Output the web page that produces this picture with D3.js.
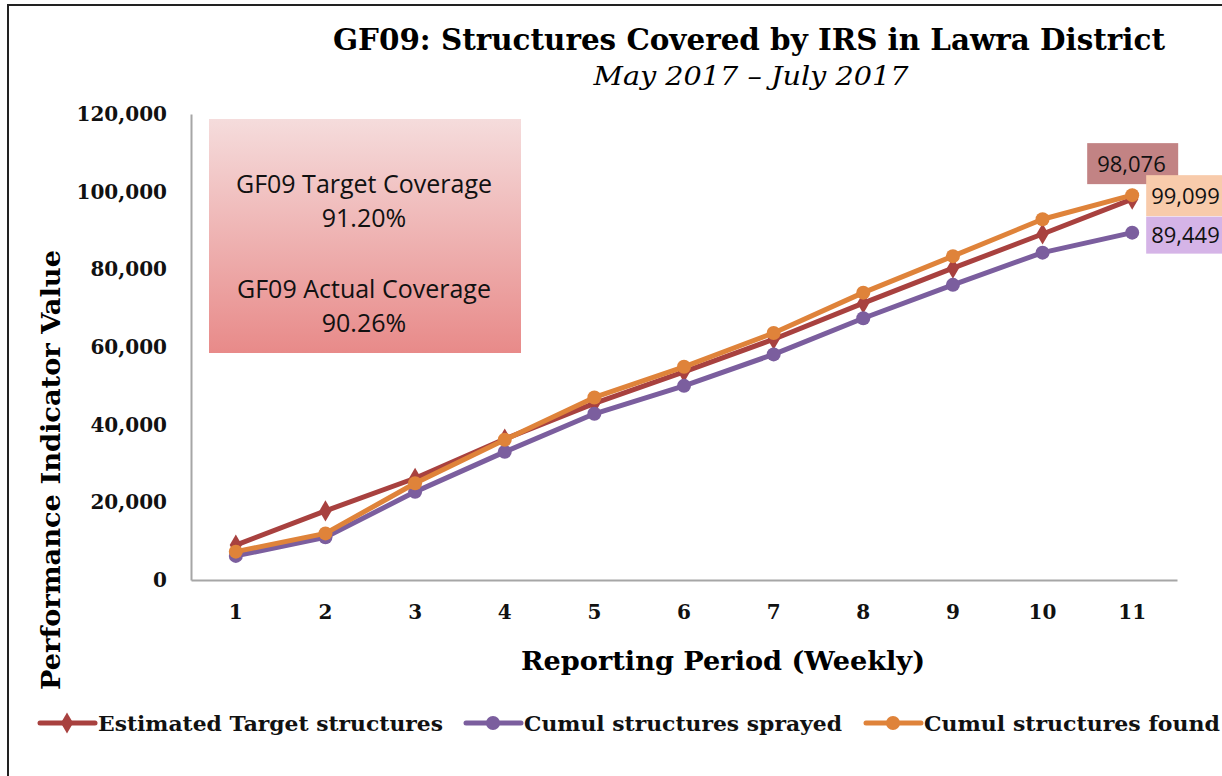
<!DOCTYPE html>
<html>
<head>
<meta charset="utf-8">
<script src="https://cdn.jsdelivr.net/npm/d3@7"></script>
<style>
  body { margin: 0; background: #fff; }
  svg { display: block; }
</style>
</head>
<body>
<div id="chart"></div>
<script>
// 数据
var periods = ["1", "2", "3", "4", "5", "6", "7", "8", "9", "10", "11"];
var targetVals = [9000, 17800, 26200, 36300, 45500, 53600, 62000, 71300, 80300, 89100, 98076];
var sprayedVals = [6200, 11000, 22700, 33000, 42800, 50000, 58100, 67400, 76000, 84300, 89449];
var foundVals = [7300, 12000, 24900, 36100, 47000, 54900, 63600, 74000, 83400, 92900, 99099];
var yTicks = [0, 20000, 40000, 60000, 80000, 100000, 120000];
var seriesNames = ["Estimated Target structures", "Cumul structures sprayed", "Cumul structures found"];
var coverageLines = ["GF09 Target Coverage", "91.20%", "GF09 Actual Coverage", "90.26%"];

var width = 1222, height = 776;
var serif = "'DejaVu Serif', 'Liberation Serif', serif";
var sans = "'Open Sans', 'Noto Sans', sans-serif";

var svg = d3.select("#chart").append("svg")
    .attr("width", width)
    .attr("height", height);

// 外框 (only left & top visible)
svg.append("path")
    .attr("d", "M8," + height + "V5H" + width)
    .attr("fill", "none")
    .attr("stroke", "#222")
    .attr("stroke-width", 2);

var x = d3.scaleBand().domain(periods).range([191, 1177]);
var y = d3.scaleLinear().domain([0, 120000]).range([580, 114]);
function cx(d, i) { return x(periods[i]) + x.bandwidth() / 2; }

// 标题
svg.append("text")
    .attr("x", 749).attr("y", 50)
    .attr("text-anchor", "middle")
    .attr("textLength", 832).attr("lengthAdjust", "spacingAndGlyphs")
    .style("font-family", serif).style("font-weight", "bold").style("font-size", "29px")
    .text("GF09: Structures Covered by IRS in Lawra District");
svg.append("text")
    .attr("x", 751).attr("y", 85)
    .attr("text-anchor", "middle")
    .attr("textLength", 315).attr("lengthAdjust", "spacingAndGlyphs")
    .style("font-family", serif).style("font-style", "italic").style("font-size", "26px")
    .text("May 2017 \u2013 July 2017");

// coverage box with gradient
var defs = svg.append("defs");
var grad = defs.append("linearGradient").attr("id", "boxGrad")
    .attr("x1", 0).attr("y1", 0).attr("x2", 0).attr("y2", 1);
grad.append("stop").attr("offset", "0%").attr("stop-color", "#f5dcdc");
grad.append("stop").attr("offset", "100%").attr("stop-color", "#e88a89");

svg.append("rect")
    .attr("x", 209).attr("y", 119)
    .attr("width", 312).attr("height", 234)
    .attr("fill", "url(#boxGrad)");

svg.selectAll(".cov")
    .data(coverageLines)
    .enter().append("text")
    .attr("class", "cov")
    .attr("x", 364)
    .attr("y", function (d, i) { return [193, 227, 298, 332][i]; })
    .attr("text-anchor", "middle")
    .style("font-family", sans).style("font-size", "25px").style("fill", "#111")
    .text(function (d) { return d; });

// 坐标轴
var yAxis = d3.axisLeft(y).tickValues(yTicks).tickSize(0).tickPadding(24)
    .tickFormat(d3.format(","));
var gy = svg.append("g").attr("transform", "translate(191,0)").call(yAxis);
gy.select(".domain").attr("stroke", "#a6a6a6").attr("stroke-width", 2);
gy.selectAll("text")
    .style("font-family", serif).style("font-weight", "bold").style("font-size", "20px")
    .style("fill", "#111");

var xAxis = d3.axisBottom(x).tickSize(0).tickPadding(25);
var gx = svg.append("g").attr("transform", "translate(0,580)").call(xAxis);
gx.select(".domain").attr("stroke", "#a6a6a6").attr("stroke-width", 2);
gx.selectAll("text")
    .style("font-family", serif).style("font-weight", "bold").style("font-size", "20px")
    .style("fill", "#111");

svg.append("text")
    .attr("transform", "translate(60,470) rotate(-90)")
    .attr("text-anchor", "middle")
    .attr("textLength", 440).attr("lengthAdjust", "spacingAndGlyphs")
    .style("font-family", serif).style("font-weight", "bold").style("font-size", "26px")
    .text("Performance Indicator Value");

svg.append("text")
    .attr("x", 723).attr("y", 670)
    .attr("text-anchor", "middle")
    .attr("textLength", 404).attr("lengthAdjust", "spacingAndGlyphs")
    .style("font-family", serif).style("font-weight", "bold").style("font-size", "26px")
    .text("Reporting Period (Weekly)");

// 折线
var series = [
    { name: seriesNames[0], values: targetVals, color: "#a8413f", marker: "diamond", lw: 345 },
    { name: seriesNames[1], values: sprayedVals, color: "#7b5e9e", marker: "circle", lw: 318 },
    { name: seriesNames[2], values: foundVals, color: "#df833a", marker: "circle", lw: 296 }
];

var line = d3.line()
    .x(cx)
    .y(function (d) { return y(d); });

var diamond = d3.symbol().type(d3.symbolDiamond).size(130);

series.forEach(function (s) {
    var g = svg.append("g");
    g.append("path")
        .datum(s.values)
        .attr("d", line)
        .attr("fill", "none")
        .attr("stroke", s.color)
        .attr("stroke-width", 5)
        .attr("stroke-linejoin", "round");
    if (s.marker === "circle") {
        g.selectAll("circle").data(s.values).enter().append("circle")
            .attr("cx", cx)
            .attr("cy", function (d) { return y(d); })
            .attr("r", 7)
            .attr("fill", s.color);
    } else {
        g.selectAll("path.m").data(s.values).enter().append("path")
            .attr("class", "m")
            .attr("d", diamond)
            .attr("transform", function (d, i) { return "translate(" + cx(d, i) + "," + y(d) + ")"; })
            .attr("fill", s.color);
    }
});

// 数据标签 at last point
var last = periods.length - 1;
var lx = cx(null, last);
var labels = [
    { v: targetVals[last], fill: "#c28384", dx: -45, dy: -56, w: 91, h: 41, tx: 10 },
    { v: foundVals[last], fill: "#f8cbab", dx: 14, dy: -20, w: 90, h: 41, tx: 5 },
    { v: sprayedVals[last], fill: "#d5b4e7", dx: 14, dy: -16, w: 90, h: 37, tx: 5 }
];
labels.forEach(function (l) {
    var bx = lx + l.dx, by = y(l.v) + l.dy;
    svg.append("rect")
        .attr("x", bx).attr("y", by)
        .attr("width", l.w).attr("height", l.h)
        .attr("fill", l.fill);
    svg.append("text")
        .attr("x", bx + l.tx).attr("y", by + l.h / 2 + 8)
        .style("font-family", sans).style("font-size", "22px").style("fill", "#111")
        .text(d3.format(",")(l.v));
});

// 图例
var legendX = [40, 466, 866];
var lg = svg.selectAll(".legend").data(series).enter().append("g")
    .attr("class", "legend")
    .attr("transform", function (d, i) { return "translate(" + legendX[i] + ",723)"; });
lg.append("line")
    .attr("x1", 0).attr("x2", 55)
    .attr("stroke", function (d) { return d.color; })
    .attr("stroke-width", 5)
    .attr("stroke-linecap", "round");
lg.each(function (d) {
    var g = d3.select(this);
    if (d.marker === "circle") {
        g.append("circle").attr("cx", 27).attr("r", 7).attr("fill", d.color);
    } else {
        g.append("path").attr("d", diamond).attr("transform", "translate(27,0)").attr("fill", d.color);
    }
});
lg.append("text")
    .attr("x", 58).attr("y", 8)
    .attr("textLength", function (d) { return d.lw; })
    .attr("lengthAdjust", "spacingAndGlyphs")
    .style("font-family", serif).style("font-weight", "bold").style("font-size", "21px")
    .style("fill", "#111")
    .text(function (d) { return d.name; });
</script>
</body>
</html>
